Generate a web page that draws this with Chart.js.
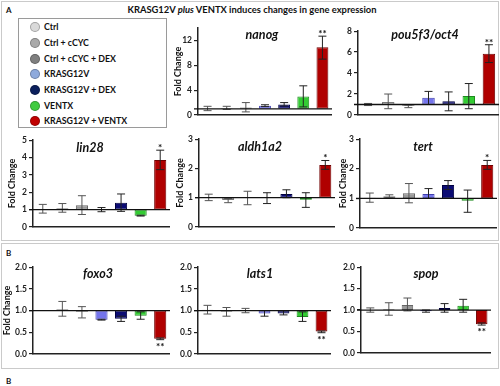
<!DOCTYPE html>
<html>
<head>
<meta charset="utf-8">
<script src="https://cdn.jsdelivr.net/npm/chart.js@4.4.0/dist/chart.umd.min.js"></script>
<style>
body { margin: 0; background: #fff; }
#fig { position: relative; width: 500px; height: 386px; overflow: hidden; font-family: Lato, "Open Sans", sans-serif; color: #111; }
.frame { position: absolute; border: 1.5px solid #cacaca; box-sizing: border-box; }
.panel { position: absolute; font-weight: bold; font-size: 8px; }
#title { position: absolute; left: 0; width: 504px; top: 4px; text-align: center; font-weight: bold; font-size: 9.4px; }
#legend { position: absolute; left: 18px; top: 18px; width: 149px; height: 110px; border: 1px solid #9a9a9a; box-sizing: border-box; }
.item { position: absolute; left: 11px; height: 12px; line-height: 12px; font-size: 8.8px; font-weight: bold; white-space: nowrap; }
.dot { display: inline-block; width: 10px; height: 10px; border-radius: 50%; vertical-align: -2px; margin-right: 4px; box-sizing: border-box; border: 1px solid rgba(0,0,0,0.25); }
canvas { position: absolute; }
</style>
</head>
<body>
<div id="fig">
  <div class="frame" style="left:1px;top:1px;width:498px;height:240px"></div>
  <div class="frame" style="left:1px;top:243px;width:498px;height:126px"></div>
  <div class="panel" style="left:6px;top:5px">A</div>
  <div class="panel" style="left:6px;top:248px">B</div>
  <div class="panel" style="left:6px;top:376px">B</div>
  <div id="title">KRASG12V <i>plus</i> VENTX induces changes in gene expression</div>
  <div id="legend"></div>
</div>
<script>
// groups and colours
const groups = ['Ctrl', 'Ctrl + cCYC', 'Ctrl + cCYC + DEX', 'KRASG12V', 'KRASG12V + DEX', 'VENTX', 'KRASG12V + VENTX'];
const legendColors = ['#d9d9d9', '#a9a9a9', '#7f7f7f', '#8faadc', '#0b1f5c', '#3fcb3f', '#c00000'];
const barFill = ['#dcdcdc', '#c4c4c4', '#9a9a9a', '#7474ec', '#0c0c74', '#33cc33', '#b00000'];
const barEdge = ['#8a8a8a', '#7a7a7a', '#666666', '#4040b0', '#000040', '#1e8a1e', '#700000'];

// fold change values (mean, error low, error high)
const nanogMean = [0.95, 1.1, 1.2, 1.5, 1.7, 3.0, 10.9];
const nanogLow  = [0.7, 0.9, 0.5, 1.35, 1.45, 1.3, 9.0];
const nanogHigh = [1.4, 1.4, 2.0, 1.65, 2.0, 4.7, 12.7];

const oct4Mean = [1.0, 1.25, 0.88, 1.65, 1.3, 1.8, 5.85];
const oct4Low  = [0.9, 0.6, 0.7, 1.0, 0.4, 0.6, 5.0];
const oct4High = [1.1, 2.0, 0.95, 2.25, 2.2, 3.0, 6.7];

const lin28Mean = [1.03, 1.08, 1.25, 1.0, 1.4, 0.65, 3.85];
const lin28Low  = [0.8, 0.85, 0.72, 0.88, 0.9, 0.63, 3.3];
const lin28High = [1.3, 1.35, 1.8, 1.12, 1.9, 0.68, 4.42];

const aldhMean = [1.0, 0.92, 1.0, 1.0, 1.13, 0.93, 2.12];
const aldhLow  = [0.9, 0.83, 0.76, 0.8, 1.0, 0.67, 1.97];
const aldhHigh = [1.12, 0.97, 1.22, 1.17, 1.27, 1.17, 2.27];

const tertMean = [1.02, 1.07, 1.17, 1.15, 1.45, 0.92, 2.13];
const tertLow  = [0.87, 1.02, 0.85, 1.0, 1.3, 0.53, 1.98];
const tertHigh = [1.18, 1.12, 1.5, 1.33, 1.6, 1.28, 2.28];

const foxo3Mean = [null, 1.03, 0.97, 0.79, 0.81, 0.88, 0.35];
const foxo3Low  = [null, 0.87, 0.83, 0.78, 0.75, 0.8, 0.33];
const foxo3High = [null, 1.21, 1.09, 0.8, 0.87, 0.97, 0.37];

const lats1Mean = [1.02, 0.97, 1.0, 0.93, 0.93, 0.85, 0.52];
const lats1Low  = [0.92, 0.87, 0.95, 0.87, 0.9, 0.75, 0.49];
const lats1High = [1.12, 1.07, 1.05, 1.0, 1.0, 0.97, 0.53];

const spopMean = [1.0, 1.02, 1.12, 0.97, 1.05, 1.1, 0.67];
const spopLow  = [0.95, 0.88, 0.98, 0.95, 0.95, 0.95, 0.65];
const spopHigh = [1.05, 1.17, 1.28, 1.0, 1.15, 1.25, 0.7];

const fig = document.getElementById('fig');

// legend
const legend = document.getElementById('legend');
const legendTops = [2, 18, 34, 49, 65, 81, 96];
groups.forEach((g, i) => {
    const d = document.createElement('div');
    d.className = 'item';
    d.style.top = legendTops[i] + 'px';
    d.innerHTML = `<span class="dot" style="background:${legendColors[i]}"></span>${g}`;
    legend.appendChild(d);
});

// error bars, baseline at 1, stars and gene name
const extras = {
    id: 'extras',
    afterDatasetsDraw(chart, args, o) {
        const { ctx, chartArea, scales: { y } } = chart;
        const meta = chart.getDatasetMeta(0);
        ctx.save();
        ctx.lineWidth = 1;
        o.low.forEach((lo, i) => {
            if (lo == null) return;
            const px = meta.data[i].x;
            const t = y.getPixelForValue(o.high[i]);
            const b = y.getPixelForValue(lo);
            ctx.strokeStyle = i < 3 ? '#555' : '#222';
            ctx.beginPath();
            ctx.moveTo(px, t); ctx.lineTo(px, b);
            ctx.moveTo(px - 4, t); ctx.lineTo(px + 4, t);
            ctx.moveTo(px - 4, b); ctx.lineTo(px + 4, b);
            ctx.stroke();
        });
        // baseline at fold change 1
        const y1 = y.getPixelForValue(1);
        ctx.strokeStyle = '#111';
        ctx.lineWidth = 1.3;
        ctx.beginPath();
        ctx.moveTo(chartArea.left - 4, y1);
        ctx.lineTo(chartArea.right, y1);
        ctx.stroke();
        // significance stars on last bar
        const k = o.mean.length - 1;
        const sx = meta.data[k].x;
        ctx.fillStyle = '#111';
        ctx.font = 'bold 10px Lato';
        ctx.textAlign = 'center';
        if (o.mean[k] > 1) {
            ctx.textBaseline = 'alphabetic';
            ctx.fillText(o.stars, sx, y.getPixelForValue(o.high[k]) + 1);
        } else {
            ctx.textBaseline = 'top';
            ctx.fillText(o.stars, sx, y.getPixelForValue(o.low[k]) + 2);
        }
        // gene name
        ctx.font = 'italic bold 12.5px Lato';
        ctx.textBaseline = 'middle';
        ctx.fillText(o.title, o.tx, o.ty);
        ctx.restore();
    }
};

function drawGene(title, mean, low, high, stars, L) {
    const W = L.gap ? Math.round(L.gap + 5.4) : 24;
    const left = L.axisX - W;
    const top = L.topY - 6;
    const width = L.rightX - left;
    const height = L.zeroY - L.topY + 12;
    const cv = document.createElement('canvas');
    cv.width = width; cv.height = height;
    cv.style.left = left + 'px'; cv.style.top = top + 'px';
    cv.style.width = width + 'px'; cv.style.height = height + 'px';
    fig.appendChild(cv);

    new Chart(cv, {
        type: 'bar',
        data: {
            labels: groups,
            datasets: [{
                data: mean.map(v => v == null ? null : [1, v]),
                backgroundColor: barFill,
                borderColor: barEdge,
                borderWidth: 1,
                borderSkipped: false,
                barPercentage: 0.62,
                categoryPercentage: 1
            }]
        },
        options: {
            responsive: false,
            animation: false,
            layout: { padding: { top: 6, bottom: 6, left: 0, right: 0 } },
            scales: {
                x: {
                    grid: { display: false },
                    border: { display: true, color: '#222', width: 1.5 },
                    ticks: { display: false }
                },
                y: {
                    min: 0,
                    max: L.max,
                    afterFit: s => { s.width = W; },
                    ticks: {
                        stepSize: L.step,
                        color: '#222',
                        padding: 2,
                        font: { family: 'Lato', size: 8.5, weight: 'bold' },
                        callback: v => L.step < 1 ? v.toFixed(1) : v
                    },
                    grid: { drawOnChartArea: false, drawTicks: true, tickLength: 4, color: '#222', lineWidth: 1.2 },
                    border: { display: true, color: '#222', width: 1.5 },
                    title: {
                        display: !!L.gap,
                        text: 'Fold Change',
                        color: '#111',
                        padding: 0,
                        font: { family: 'Lato', size: 9, weight: 'bold' }
                    }
                }
            },
            plugins: {
                legend: { display: false },
                tooltip: { enabled: false },
                extras: { title, mean, low, high, stars, tx: L.titleX - left, ty: L.titleY - top }
            }
        },
        plugins: [extras]
    });
}

drawGene('nanog', nanogMean, nanogLow, nanogHigh, '**',
    { axisX: 198, rightX: 332, topY: 27, zeroY: 123, max: 14, step: 2, gap: 20, titleX: 262, titleY: 35 });
drawGene('pou5f3/oct4', oct4Mean, oct4Low, oct4High, '**',
    { axisX: 358, rightX: 499, topY: 30, zeroY: 123, max: 8, step: 2, gap: 0, titleX: 425, titleY: 35 });
drawGene('lin28', lin28Mean, lin28Low, lin28High, '*',
    { axisX: 33, rightX: 170, topY: 139, zeroY: 235, max: 5, step: 1, gap: 21, titleX: 90, titleY: 148 });
drawGene('aldh1a2', aldhMean, aldhLow, aldhHigh, '*',
    { axisX: 199, rightX: 335, topY: 138, zeroY: 235, max: 3, step: 1, gap: 19, titleX: 260, titleY: 147 });
drawGene('tert', tertMean, tertLow, tertHigh, '*',
    { axisX: 360, rightX: 497, topY: 138, zeroY: 236, max: 3, step: 1, gap: 17, titleX: 423, titleY: 147 });
drawGene('foxo3', foxo3Mean, foxo3Low, foxo3High, '**',
    { axisX: 33, rightX: 170, topY: 266, zeroY: 362, max: 2, step: 0.5, gap: 26, titleX: 98, titleY: 274 });
drawGene('lats1', lats1Mean, lats1Low, lats1High, '**',
    { axisX: 198, rightX: 331, topY: 266, zeroY: 362, max: 2, step: 0.5, gap: 0, titleX: 260, titleY: 274 });
drawGene('spop', spopMean, spopLow, spopHigh, '**',
    { axisX: 361, rightX: 491, topY: 266, zeroY: 361, max: 2, step: 0.5, gap: 0, titleX: 426, titleY: 274 });
</script>
</body>
</html>
